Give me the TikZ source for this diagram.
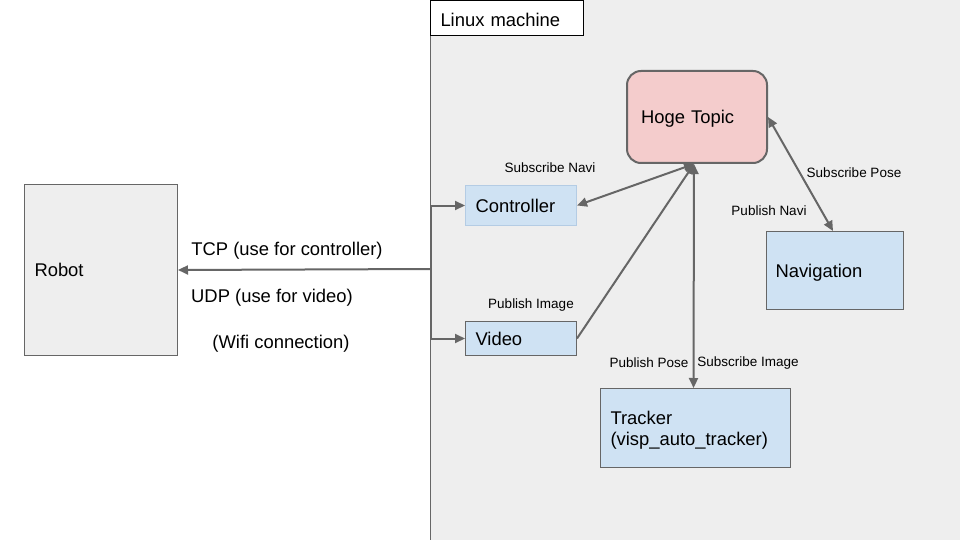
\documentclass[tikz,border=0pt]{standalone}
\usepackage{fontspec}
\setmainfont{Liberation Sans}
\usetikzlibrary{arrows.meta}
\definecolor{panelgray}{HTML}{EEEEEE}
\definecolor{boxblue}{HTML}{CFE2F3}
\definecolor{topicpink}{HTML}{F4CCCC}
\definecolor{edgegray}{HTML}{666666}
\definecolor{lightedge}{HTML}{B4CCE4}
\newcommand\bigtxt{\fontsize{18.4}{21}\selectfont}
\newcommand\smalltxt{\fontsize{13.5}{16}\selectfont}
\tikzset{
  box/.style={draw=edgegray, fill=boxblue, line width=1pt, anchor=north west,
    align=left, inner xsep=10pt, inner ysep=0pt, text depth=0pt, font=\bigtxt},
  link/.style={draw=edgegray, line width=2pt, >={Triangle[length=10pt,width=9pt]}},
  lbl/.style={font=\smalltxt, inner sep=0pt}
}
\begin{document}
\begin{tikzpicture}[x=1pt, y=-1pt]
  \useasboundingbox (0,0) rectangle (960,540);
  \clip (0,0) rectangle (960,540);
  \fill[white] (0,0) rectangle (960,540);
  \draw[edgegray, fill=panelgray, line width=1pt] (430,0) rectangle (970,550);
  \node[box, fill=white, draw=black, text width=133pt, text height=17pt, minimum height=35pt] (linux) at (430,0) {Linux machine};

  \node[box, fill=panelgray, text width=133pt, minimum height=171pt] (robot) at (24,184) {Robot};
  \node[box, draw=lightedge, text width=91pt, minimum height=40pt] (ctrl) at (465,185) {Controller};
  \node[box, text width=91pt, minimum height=34pt] (video) at (465,321) {Video};
  \node[box, fill=topicpink, line width=2pt, rounded corners=14pt, inner xsep=14pt,
    text width=112pt, minimum height=92pt] (hoge) at (626,70) {Hoge Topic};
  \node[box, inner xsep=9pt, text width=119pt, minimum height=78pt] (nav) at (766,231) {Navigation};
  \node[box, text width=170pt, text depth=21pt, minimum height=79pt] (tracker) at (600,388) {Tracker\\(visp\_auto\_tracker)};

  \coordinate (wifi) at (431,269);
  \draw[link, ->] (wifi) -- (robot.east);
  \draw[link, ->] (wifi) |- (ctrl.west);
  \draw[link, ->] (wifi) |- (video.west);
  \draw[link, <->] (ctrl.east) -- ([xshift=-3pt]hoge.south);
  \draw[link, ->] (video.east) -- ([xshift=-3pt]hoge.south);
  \draw[link, <->] ([xshift=-3pt]hoge.south) -- ([xshift=-2pt]tracker.north);
  \draw[link, <->] (hoge.east) -- ([xshift=-2pt]nav.north);

  \node[lbl] (tcp) at (287,250.5) {\bigtxt TCP (use for controller)};
  \node[lbl, anchor=west] (udp) at (191,297.5) {\bigtxt UDP (use for video)};
  \node[lbl] (wifilbl) at (281,344) {\bigtxt (Wifi connection)};
  \node[lbl] (subnavi) at (550,168) {Subscribe Navi};
  \node[lbl] (pubimg) at (531,305) {Publish Image};
  \node[lbl] (pubpose) at (649,363) {Publish Pose};
  \node[lbl] (subimg) at (748,363) {Subscribe Image};
  \node[lbl] (subpose) at (854,173) {Subscribe Pose};
  \node[lbl] (pubnavi) at (769,211) {Publish Navi};
\end{tikzpicture}
\end{document}
